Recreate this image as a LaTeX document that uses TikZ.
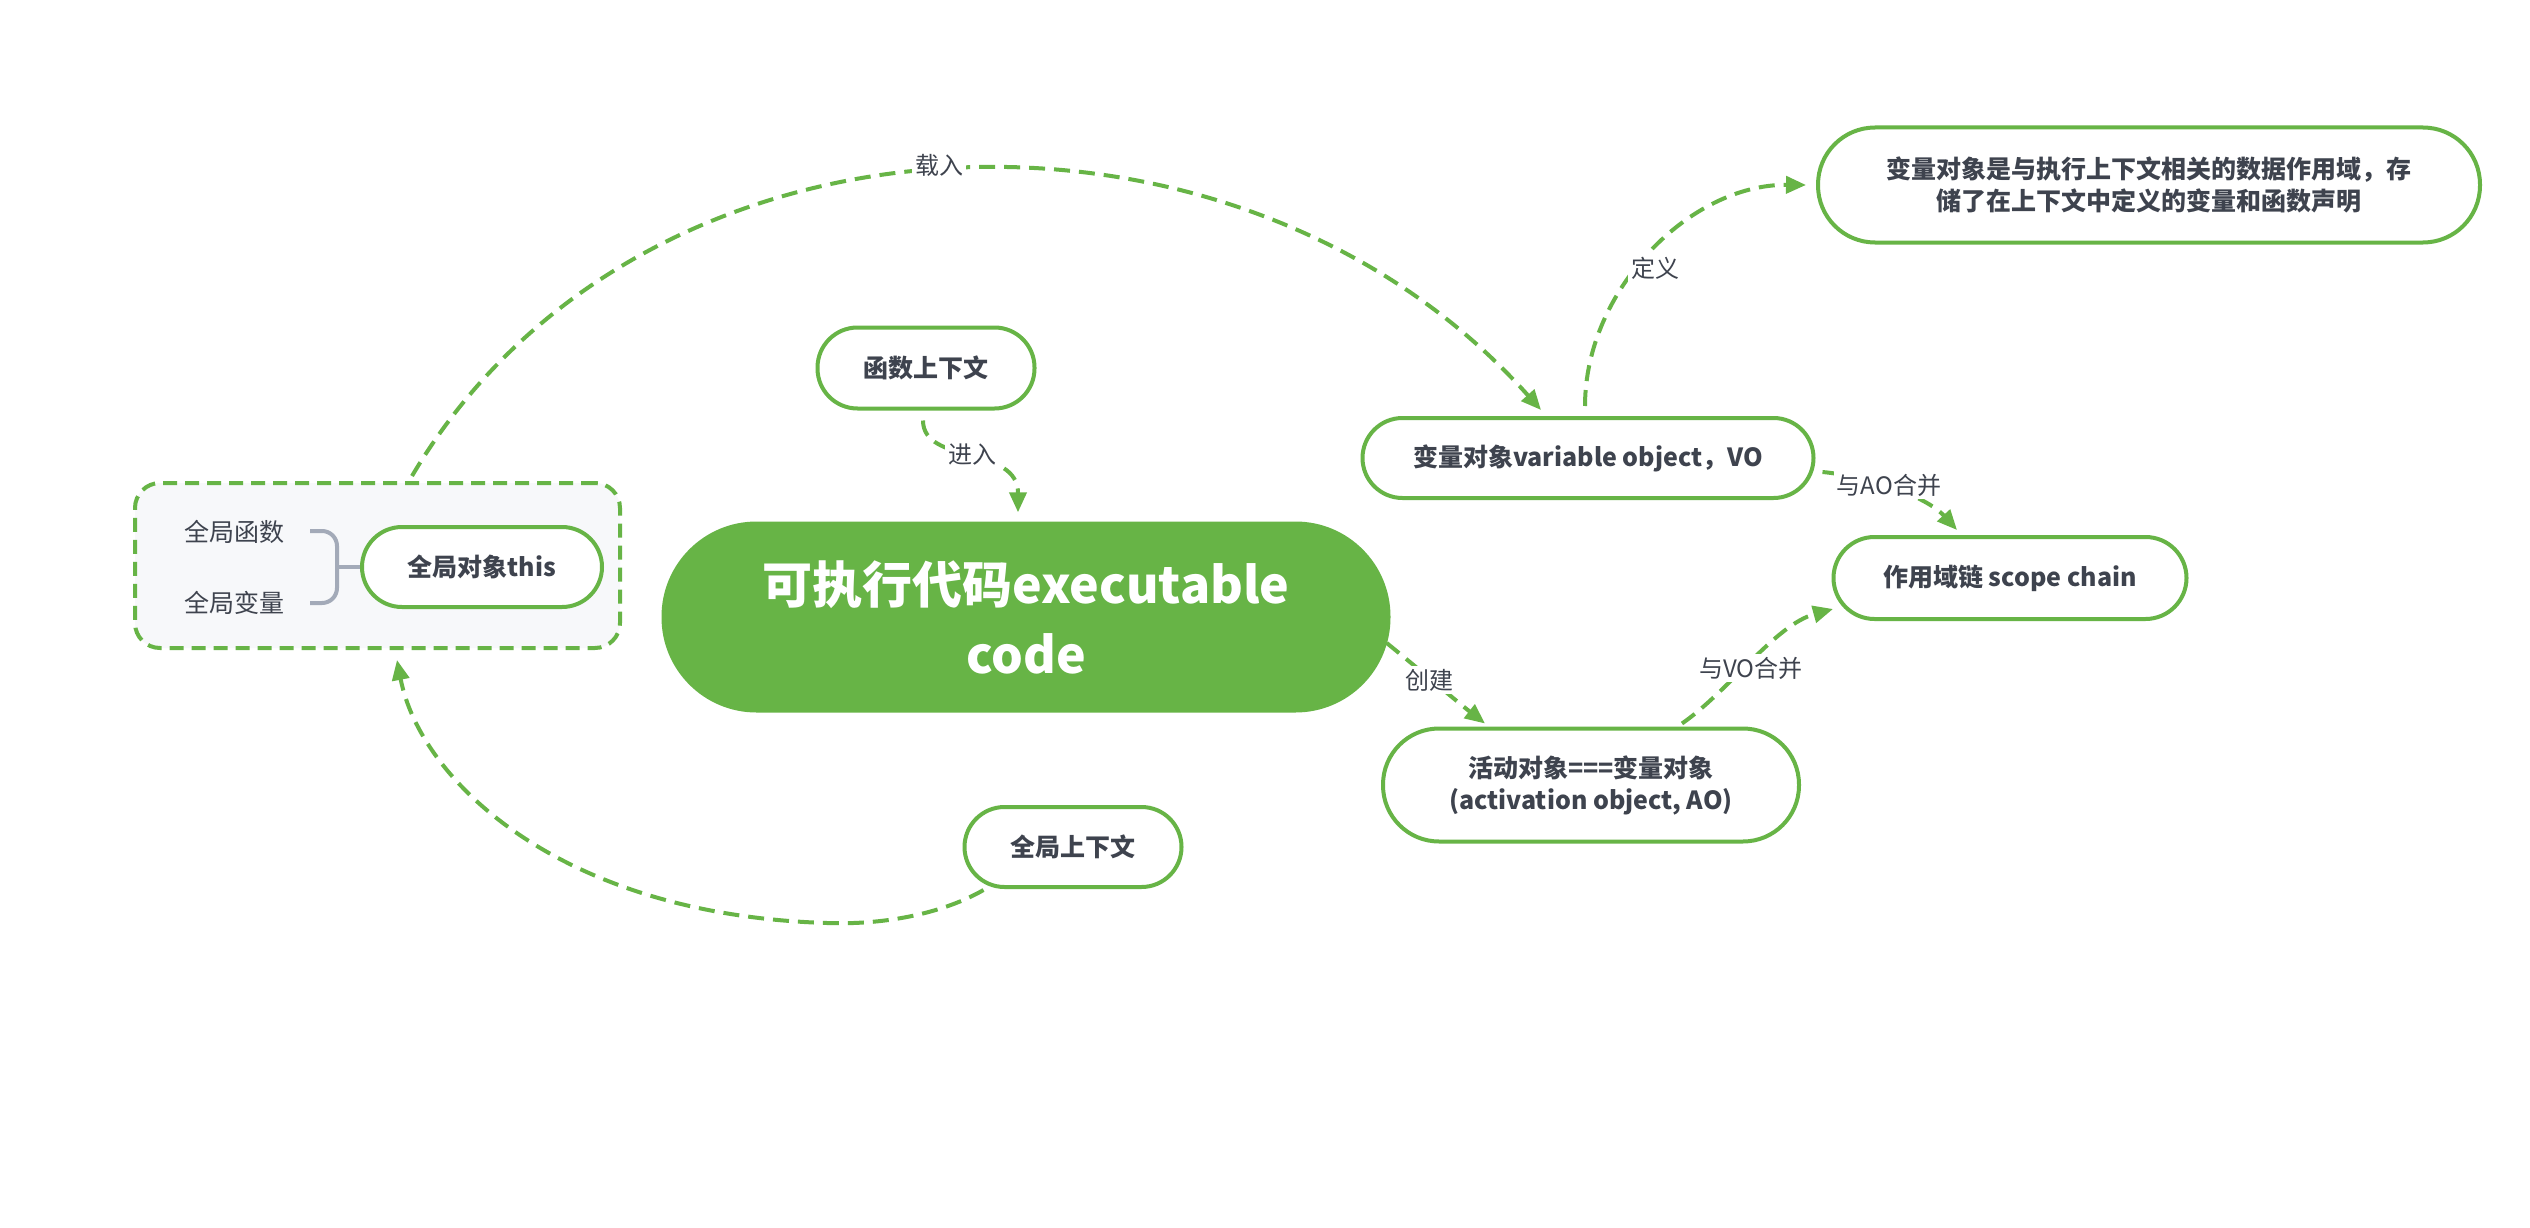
\documentclass[tikz,border=0pt]{standalone}
\usepackage{fontspec}
\setmainfont{Noto Sans CJK SC}
\usetikzlibrary{arrows.meta,calc}
\definecolor{grn}{RGB}{103,180,70}
\definecolor{txt}{RGB}{62,67,78}
\definecolor{brk}{RGB}{163,170,184}
\definecolor{boxfill}{RGB}{247,248,250}
\tikzset{
  pill/.style={draw=grn, line width=4pt, fill=white, rounded corners=#1, inner sep=0pt,
    align=center, text=txt, font=\fontsize{25}{32}\selectfont\bfseries},
  mainnode/.style={fill=grn, draw=none, rounded corners=95pt, inner sep=0pt,
    minimum width=729pt, minimum height=191pt, align=center, text=white,
    font=\fontsize{50}{70}\selectfont\bfseries},
  conn/.style={draw=grn, line width=4pt, dash pattern=on 16pt off 9pt,
    -{Triangle[length=20pt,width=17pt]}},
  lbl/.style={fill=white, inner sep=3pt, text=txt, font=\fontsize{24}{28}\selectfont},
  item/.style={inner sep=0pt, text=txt, font=\fontsize{25}{30}\selectfont},
}
\begin{document}
\begin{tikzpicture}[x=1pt,y=-1pt]
\useasboundingbox (0,0) rectangle (2530,1228);
\fill[white] (0,0) rectangle (2530,1228);

% group box
\node[draw=grn, fill=boxfill, line width=4pt, dash pattern=on 14pt off 8pt,
      rounded corners=25pt, minimum width=485pt, minimum height=165pt] (gbox) at (377.5,565.5) {};
\node[item] (gfunc) at (234,532) {全局函数};
\node[item] (gvar) at (234,603) {全局变量};
\node[pill=40pt, minimum width=240pt, minimum height=80pt] (gthis) at (482,567) {全局对象this};
\draw[brk, line width=4pt, rounded corners=15pt] (310,531) -- (337,531) -- (337,603) -- (310,603);
\draw[brk, line width=4pt] (337,567) -- (gthis.west);

% nodes
\node[pill=40pt, minimum width=217pt, minimum height=81pt] (func) at (926,368) {函数上下文};
\node[pill=40pt, minimum width=217pt, minimum height=80pt] (glob) at (1073,847) {全局上下文};
\node[mainnode] (main) at (1026,617) {可执行代码executable\\code};
\node[pill=40pt, minimum width=451pt, minimum height=80pt] (vo) at (1588,458) {变量对象variable object，VO};
\node[pill=41pt, minimum width=353pt, minimum height=82pt] (scope) at (2010,578) {作用域链 scope chain};
\node[pill=56pt, minimum width=416pt, minimum height=113pt] (ao) at (1591,785) {活动对象===变量对象\\(activation object, AO)};
\node[pill=57pt, minimum width=662pt, minimum height=115pt] (desc) at (2149,185) {变量对象是与执行上下文相关的数据作用域，存\\储了在上下文中定义的变量和函数声明};

% connectors
\draw[conn] ([xshift=34.5pt,yshift=5pt]gbox.north) .. controls (640,90) and (1236,68) .. ([xshift=-47pt,yshift=6pt]vo.north);
\draw[conn] ([xshift=-3pt,yshift=-10pt]func.south) .. controls (923,465) and (1018,445) .. ([xshift=-8pt,yshift=9pt]main.north);
\draw[conn] ([xshift=-3pt,yshift=10pt]vo.north) .. controls (1585,290) and (1690,184) .. ([xshift=-10pt]desc.west);
\draw[conn] ([xshift=7pt,yshift=-14pt]vo.east) .. controls (1865,476) and (1925,495) .. ([xshift=-53pt,yshift=5pt]scope.north);
\draw[conn] ([xshift=-4pt,yshift=-26pt]main.east) .. controls (1420,670) and (1455,700) .. ([xshift=-106pt,yshift=3pt]ao.north);
\draw[conn] ([xshift=91pt,yshift=3pt]ao.north) .. controls (1730,690) and (1775,625) .. ([xshift=1.5pt,yshift=-31pt]scope.west);
\draw[conn] ([xshift=21pt,yshift=-43pt]glob.west) .. controls (940,915) and (880,925) .. (827,923)
   .. controls (560,915) and (420,780) .. ([xshift=19.5pt,yshift=-10pt]gbox.south);

% labels
\node[lbl] (l1) at (939,165) {载入};
\node[lbl] (l2) at (972,455) {进入};
\node[lbl] (l3) at (1655,268) {定义};
\node[lbl] (l4) at (1889,485) {与AO合并};
\node[lbl] (l5) at (1429,680) {创建};
\node[lbl] (l6) at (1751,668) {与VO合并};
\end{tikzpicture}
\end{document}
